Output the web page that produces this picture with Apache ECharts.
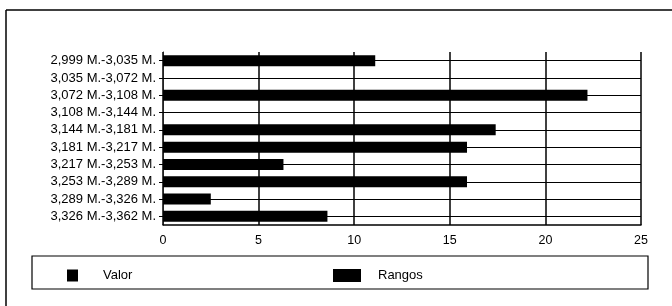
<!DOCTYPE html>
<html>
<head>
<meta charset="utf-8">
<script src="https://cdn.jsdelivr.net/npm/echarts@6/dist/echarts.min.js"></script>
<style>
  html, body { margin: 0; padding: 0; background: #fff; }
  #chart { width: 672px; height: 306px; }
</style>
</head>
<body>
<div id="chart"></div>
<script>
// Ranges (top to bottom) and counts
const categories = [
  '2,999 M.-3,035 M.', '3,035 M.-3,072 M.', '3,072 M.-3,108 M.', '3,108 M.-3,144 M.',
  '3,144 M.-3,181 M.', '3,181 M.-3,217 M.', '3,217 M.-3,253 M.', '3,253 M.-3,289 M.',
  '3,289 M.-3,326 M.', '3,326 M.-3,362 M.'
]
const valores = [11.1, 0, 22.2, 0, 17.4, 15.9, 6.3, 15.9, 2.5, 8.6]
const xTicks = { min: 0, max: 25, interval: 5 }

const font = '"Liberation Sans", Arial, sans-serif'
const chart = echarts.init(document.getElementById('chart'))

chart.setOption({
  animation: false,
  backgroundColor: '#fff',
  textStyle: { fontFamily: font, color: '#000' },
  grid: { left: 163, right: 31, top: 52, bottom: 81 },
  xAxis: {
    type: 'value',
    min: xTicks.min,
    max: xTicks.max,
    interval: xTicks.interval,
    axisLine: { show: true, lineStyle: { color: '#000', width: 1.5 } },
    axisTick: { show: false },
    axisLabel: { color: '#000', fontSize: 12.5, margin: 9, fontFamily: font },
    splitLine: { lineStyle: { color: '#000', width: 1.5 } }
  },
  yAxis: {
    type: 'category',
    inverse: true,
    data: categories,
    axisLine: { show: true, lineStyle: { color: '#222', width: 1 } },
    axisTick: { show: true, alignWithLabel: true, length: 4, lineStyle: { color: '#000' } },
    axisLabel: { color: '#000', fontSize: 13, margin: 7, fontFamily: font },
    splitLine: { show: false }
  },
  legend: [
    {
      data: [{ name: 'Valor', icon: 'rect' }],
      left: 67, top: 269, padding: 0,
      itemWidth: 11, itemHeight: 12,
      selectedMode: false,
      textStyle: { fontSize: 13, color: '#000', fontFamily: font, padding: [0, 0, 0, 20] }
    },
    {
      data: [{ name: 'Rangos', icon: 'rect' }],
      left: 333, top: 269, padding: 0,
      itemWidth: 28, itemHeight: 13,
      selectedMode: false,
      textStyle: { fontSize: 13, color: '#000', fontFamily: font, padding: [0, 0, 0, 12] }
    }
  ],
  graphic: [
    { type: 'line', shape: { x1: 6, y1: 10, x2: 672, y2: 10 }, style: { stroke: '#000', lineWidth: 1.5 } },
    { type: 'line', shape: { x1: 6, y1: 10, x2: 6, y2: 306 }, style: { stroke: '#000', lineWidth: 1.5 } },
    { type: 'rect', shape: { x: 32, y: 256, width: 616, height: 33 }, style: { fill: 'none', stroke: '#000', lineWidth: 1.2 } }
  ],
  series: [
    {
      name: 'Valor',
      type: 'bar',
      data: valores,
      barWidth: 11,
      itemStyle: { color: '#000' },
      markLine: {
        silent: true,
        symbol: 'none',
        label: { show: false },
        lineStyle: { color: '#000', width: 1, type: 'solid' },
        data: categories.map(c => ({ yAxis: c }))
      }
    },
    {
      name: 'Rangos',
      type: 'line',
      data: [],
      itemStyle: { color: '#000' }
    }
  ]
})
</script>
</body>
</html>
